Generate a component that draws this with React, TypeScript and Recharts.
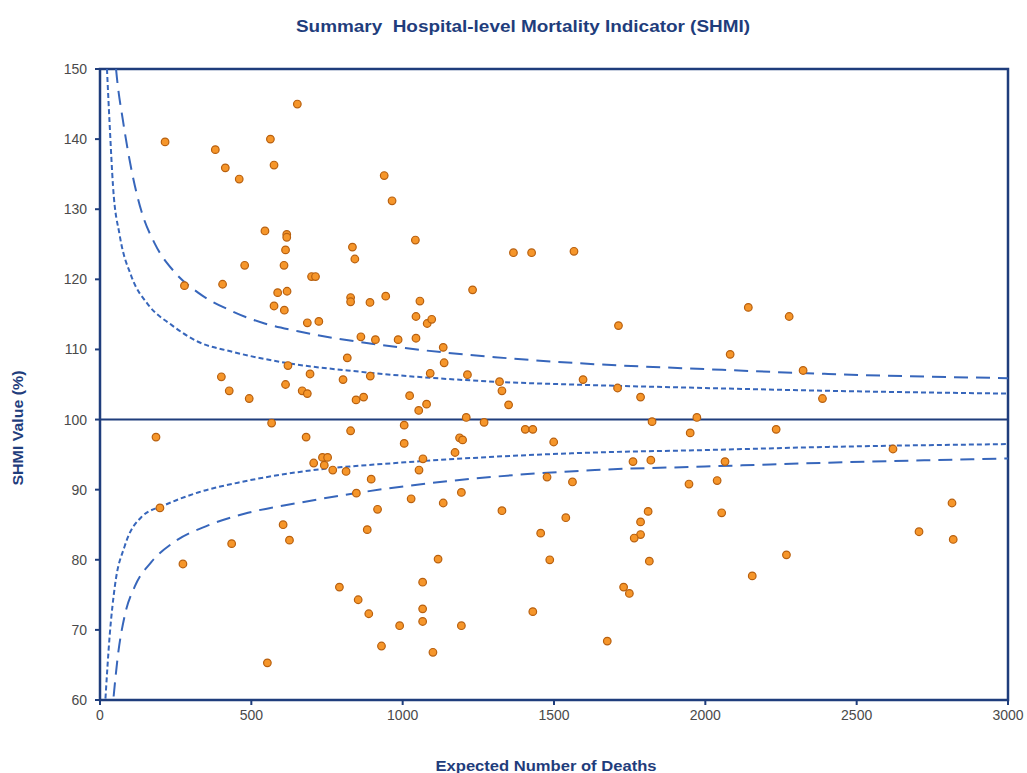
import React from 'react'
import { ComposedChart, Scatter, Line, XAxis, YAxis, ReferenceLine, ReferenceArea } from 'recharts'

// expected deaths / SHMI value for each trust
const expectedDeaths = [
  652, 215, 563, 381, 414, 575, 460, 939, 965, 545, 617, 617, 613, 834, 842, 478, 608, 699, 712,
  279, 405, 587, 618, 828, 828, 892, 944, 575, 609, 685, 723, 862, 910, 985, 817, 621, 401, 694,
  803, 893, 613, 427, 668, 685, 493, 846, 871, 567, 185, 681, 828, 1005, 1005, 706, 735, 752, 741,
  769, 813, 896,
  198, 847, 917, 883, 605, 626, 435, 274, 791, 853, 888, 990, 930, 553,
  1231, 1057, 1044, 1081, 1096, 1713, 1044, 1134, 1137, 1091, 1214, 1320, 1328, 1350, 1596, 1710,
  1786, 1023, 1079, 1053, 1210, 1269, 1405, 1430, 1824, 1972, 1950, 1188, 1198, 1499, 1173, 1067,
  1054, 1761, 1820, 1477, 1561, 1946,
  1028, 1134, 1194, 1328, 1539, 1811, 1786, 1786, 1765, 1456, 1117, 1486, 1815, 1066, 1730, 1749,
  1066, 1430, 1066, 1194, 1100, 1676,
  1042, 1366, 1426, 1566,
  2142, 2277, 2082, 2323, 2387, 2234, 2620, 2065, 2039,
  2054, 2268, 2155, 2815, 2706, 2819,
]
const shmiValues = [
  145.0, 139.6, 140.0, 138.5, 135.9, 136.3, 134.3, 134.8, 131.2, 126.9, 126.4, 126.0, 124.2, 124.6, 122.9, 122.0, 122.0, 120.4, 120.4,
  119.1, 119.3, 118.1, 118.3, 117.4, 116.8, 116.7, 117.6, 116.2, 115.6, 113.8, 114.0, 111.8, 111.4, 111.4, 108.8, 107.7, 106.1, 106.5,
  105.7, 106.2, 105.0, 104.1, 104.1, 103.7, 103.0, 102.8, 103.2, 99.5, 97.5, 97.5, 98.4, 99.2, 96.6, 93.8, 94.6, 94.6, 93.5,
  92.8, 92.6, 91.5,
  87.4, 89.5, 87.2, 84.3, 85.0, 82.8, 82.3, 79.4, 76.1, 74.3, 72.3, 70.6, 67.7, 65.3,
  118.5, 116.9, 114.7, 113.7, 114.3, 113.4, 111.6, 110.3, 108.1, 106.6, 106.4, 105.4, 104.1, 102.1, 105.7, 104.5,
  103.2, 103.4, 102.2, 101.3, 100.3, 99.6, 98.6, 98.6, 99.7, 100.3, 98.1, 97.4, 97.1, 96.8, 95.3, 94.4,
  92.8, 94.0, 94.2, 91.8, 91.1, 90.8,
  88.7, 88.1, 89.6, 87.0, 86.0, 86.9, 85.4, 83.6, 83.1, 83.8, 80.1, 80.0, 79.8, 76.8, 76.1, 75.2,
  73.0, 72.6, 71.2, 70.6, 66.8, 68.4,
  125.6, 123.8, 123.8, 124.0,
  116.0, 114.7, 109.3, 107.0, 103.0, 98.6, 95.8, 94.0, 91.3,
  86.7, 80.7, 77.7, 88.1, 84.0, 82.9,
]

// control limits
const upper998X = [53, 56, 76, 104, 137, 181, 247, 324, 434, 544, 654, 1008, 1305, 1635, 1999, 2406, 3000]
const upper998Y = [150, 148.7, 142.6, 135.6, 129.7, 125.1, 121.0, 118.1, 115.5, 113.7, 112.6, 110.2, 108.9, 107.9, 107.2, 106.5, 105.9]
const upper95X = [23, 32, 43, 65, 104, 159, 236, 324, 434, 599, 864, 1305, 1635, 1999, 2406, 3000]
const upper95Y = [150, 142.0, 133.3, 126.3, 120.4, 116.4, 113.5, 111.1, 109.7, 108.2, 106.8, 105.4, 104.9, 104.5, 104.1, 103.7]
const lower95X = [18, 32, 49, 82, 137, 214, 324, 456, 654, 1008, 1305, 1635, 1999, 2406, 3000]
const lower95Y = [60.2, 69.2, 76.2, 82.0, 86.1, 87.8, 89.6, 91.0, 92.5, 93.9, 94.7, 95.3, 95.65, 96.1, 96.5]
const lower998X = [45, 59, 82, 115, 170, 247, 357, 489, 654, 1008, 1305, 1635, 1999, 2406, 3000]
const lower998Y = [60.5, 66.3, 72.1, 76.2, 79.7, 82.6, 84.9, 86.7, 88.1, 90.5, 91.85, 92.8, 93.3, 93.85, 94.45]

const xTicks = [0, 500, 1000, 1500, 2000, 2500, 3000]
const yTicks = [60, 70, 80, 90, 100, 110, 120, 130, 140, 150]

const points = expectedDeaths.map((x, i) => ({ x, y: shmiValues[i] }))
const toLine = (xs: number[], ys: number[]) => xs.map((x, i) => ({ x, y: ys[i] }))

const navy = '#1f3d7c'
const limitBlue = '#3766bb'
const font = "'Liberation Sans', Arial, sans-serif"

const Dot = (props: any) => (
  <circle cx={props.cx} cy={props.cy} r={3.8} fill="#f6962a" stroke="#b8600f" strokeWidth={1.2} />
)

const limitLine = (xs: number[], ys: number[], dash: string) => (
  <Line
    data={toLine(xs, ys)}
    dataKey="y"
    type="monotone"
    stroke={limitBlue}
    strokeWidth={2}
    strokeDasharray={dash}
    dot={false}
    activeDot={false}
    isAnimationActive={false}
  />
)

export default function App() {
  return (
    <div style={{ position: 'absolute', left: 0, top: 0, width: 1027, height: 773, background: '#fff', fontFamily: font }}>
      <ComposedChart width={1027} height={773} margin={{ top: 69, right: 19, bottom: 33, left: 40 }}>
        <XAxis
          type="number"
          dataKey="x"
          domain={[0, 3000]}
          ticks={xTicks}
          allowDataOverflow
          height={40}
          tickSize={5}
          tickMargin={5}
          stroke={navy}
          strokeWidth={2}
          tick={{ fill: '#4a4a4a', fontSize: 14, fontFamily: font }}
        />
        <YAxis
          type="number"
          dataKey="y"
          domain={[60, 150]}
          ticks={yTicks}
          allowDataOverflow
          width={60}
          tickSize={5}
          tickMargin={8}
          stroke={navy}
          strokeWidth={2}
          tick={{ fill: '#4a4a4a', fontSize: 14, fontFamily: font }}
        />
        <ReferenceArea x1={0} x2={3000} y1={60} y2={150} fill="none" stroke={navy} strokeWidth={2.5} />
        <ReferenceLine y={100} stroke={navy} strokeWidth={2} />
        {limitLine(upper998X, upper998Y, '14 8')}
        {limitLine(lower998X, lower998Y, '14 8')}
        {limitLine(upper95X, upper95Y, '5 3')}
        {limitLine(lower95X, lower95Y, '5 3')}
        <Scatter data={points} shape={<Dot />} isAnimationActive={false} />
      </ComposedChart>
      <svg width={1027} height={773} style={{ position: 'absolute', left: 0, top: 0, pointerEvents: 'none' }}>
        <text x={523} y={32} textAnchor="middle" fontSize={16} fontWeight={700} fill={navy} fontFamily={font} textLength={454} lengthAdjust="spacingAndGlyphs">
          {'Summary\u00a0\u00a0Hospital-level Mortality Indicator (SHMI)'}
        </text>
        <text x={546} y={771} textAnchor="middle" fontSize={15} fontWeight={700} fill={navy} fontFamily={font} textLength={221} lengthAdjust="spacingAndGlyphs">
          Expected Number of Deaths
        </text>
        <text x={0} y={0} transform="translate(23, 428) rotate(-90)" textAnchor="middle" fontSize={15} fontWeight={700} fill={navy} fontFamily={font} textLength={115} lengthAdjust="spacingAndGlyphs">
          SHMI Value (%)
        </text>
      </svg>
    </div>
  )
}
